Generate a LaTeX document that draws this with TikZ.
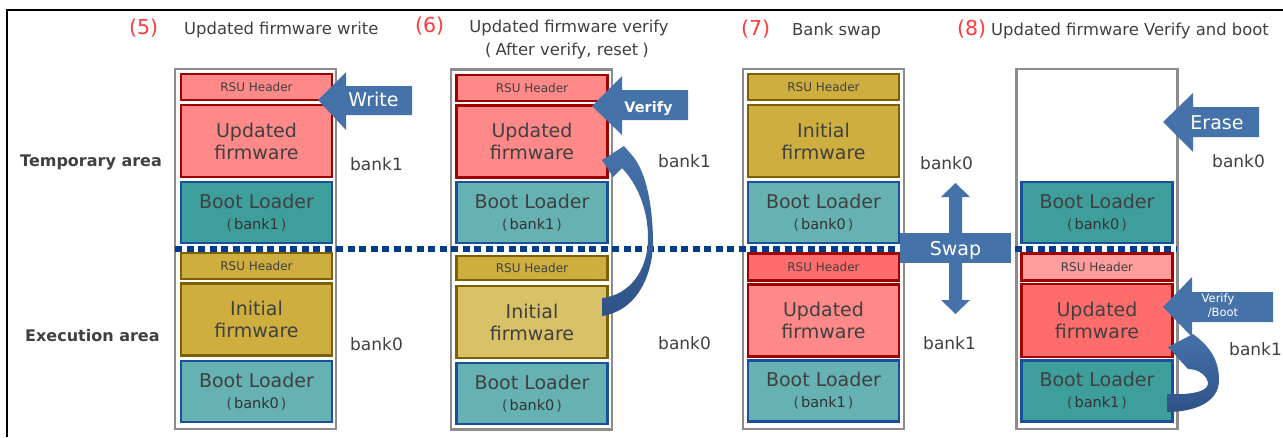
\documentclass[tikz,border=0pt]{standalone}
\usepackage{fontspec}
\setmainfont{DejaVu Sans}
\definecolor{txtgray}{HTML}{404040}
\definecolor{numred}{HTML}{FF3B3B}
\definecolor{framegray}{HTML}{8C8C8C}
\definecolor{pinkA}{HTML}{FF8888}
\definecolor{pinkB}{HTML}{FF6C6C}
\definecolor{pinkC}{HTML}{FF9C9C}
\definecolor{redline}{HTML}{A00000}
\definecolor{gold}{HTML}{CDAE3F}
\definecolor{goldlight}{HTML}{D9C168}
\definecolor{goldline}{HTML}{7F6000}
\definecolor{tealdark}{HTML}{3E9E9C}
\definecolor{teallight}{HTML}{66B2B2}
\definecolor{tealline}{HTML}{1A4F9C}
\definecolor{arrowblue}{HTML}{4672AA}
\definecolor{arrowdark}{HTML}{2E5288}
\definecolor{dotblue}{HTML}{003C8C}
\newcommand{\bl}[1]{Boot Loader\\[-1pt]{\fontsize{14}{16}\selectfont (\hspace{2pt}{\fontsize{14.5}{16}\selectfont\color{black!80}#1}\hspace{2pt})}}
\begin{document}
\begin{tikzpicture}[x=1pt,y=-1pt,
  memframe/.style={draw=framegray, line width=2.5pt, fill=white, minimum width=161, minimum height=360, inner sep=0pt},
  blk/.style={rectangle, line width=2.2pt, inner sep=0pt, minimum width=151, align=center, text=txtgray,
    font=\fontsize{19}{22}\selectfont},
  hdr/.style={blk, minimum height=26, font=\fontsize{12}{14}\selectfont},
  fw/.style={blk, minimum height=72},
  boot/.style={blk, minimum height=61, fill=teallight, draw=tealline},
  goldblk/.style={draw=goldline, fill=gold},
  title/.style={anchor=base west, inner sep=0pt, text=txtgray, font=\fontsize{16.4}{19}\selectfont},
  num/.style={anchor=base west, inner sep=0pt, text=numred, font=\fontsize{20.5}{22}\selectfont},
  area/.style={anchor=base west, inner sep=0pt, text=txtgray, font=\bfseries\fontsize{16}{19}\selectfont},
  bank/.style={anchor=base west, inner sep=0pt, text=txtgray, font=\fontsize{17}{20}\selectfont},
  arrowtext/.style={anchor=base, inner sep=0pt, text=white, font=\fontsize{19}{22}\selectfont},
  blockarrow/.style={fill=arrowblue},
  bentarrow/.style={top color=arrowblue, bottom color=arrowdark},
  divider/.style={draw=dotblue, line width=6pt, dash pattern=on 7pt off 4.5pt}
]
\useasboundingbox (0,0) rectangle (1283,437);

% partial outer frame
\draw[line width=2pt, black] (7,437) -- (7,10) -- (1283,10);

% ---------- (5) Updated firmware write ----------
\node[memframe] (f5) at (255.5,249) {};
\node[hdr, fill=pinkA, draw=redline] (h5a) at (256.5,87) {RSU Header};
\node[fw, fill=pinkA, draw=redline] (u5) at (256.5,141) {Updated\\firmware};
\node[boot, fill=tealdark] (b5a) at (256.5,212.5) {\bl{bank1}};
\node[hdr, goldblk] (h5b) at (256.5,266) {RSU Header};
\node[fw, goldblk] (i5) at (256.5,319.5) {Initial\\firmware};
\node[boot] (b5b) at (256.5,391.5) {\bl{bank0}};

% ---------- (6) Updated firmware verify ----------
\node[memframe] (f6) at (531.5,249.5) {};
\node[hdr, fill=pinkA, draw=redline] (h6a) at (532,88) {RSU Header};
\node[fw, fill=pinkA, draw=redline] (u6) at (532,141.5) {Updated\\firmware};
\node[boot] (b6a) at (532,212.5) {\bl{bank1}};
\node[hdr, minimum height=24, goldblk] (h6b) at (532,268) {RSU Header};
\node[fw, draw=goldline, fill=goldlight] (i6) at (532,322) {Initial\\firmware};
\node[boot] (b6b) at (532,393.5) {\bl{bank0}};

% ---------- (7) Bank swap ----------
\node[memframe] (f7) at (823.5,249) {};
\node[hdr, goldblk] (h7a) at (823.5,87) {RSU Header};
\node[fw, goldblk] (i7) at (823.5,141) {Initial\\firmware};
\node[boot] (b7a) at (823.5,212.5) {\bl{bank0}};
\node[hdr, minimum height=27, fill=pinkB, draw=redline] (h7b) at (823.5,267) {RSU Header};
\node[fw, fill=pinkA, draw=redline] (u7) at (823.5,320.5) {Updated\\firmware};
\node[boot] (b7b) at (823.5,391) {\bl{bank1}};

% ---------- (8) Updated firmware verify and boot ----------
\node[memframe] (f8) at (1097,249) {};
\node[boot, fill=tealdark] (b8a) at (1097,212.5) {\bl{bank0}};
\node[hdr, minimum height=27, fill=pinkC, draw=redline] (h8b) at (1097,267) {RSU Header};
\node[fw, minimum height=73, fill=pinkB, draw=redline] (u8) at (1097,320.5) {Updated\\firmware};
\node[boot, fill=tealdark] (b8b) at (1097,391) {\bl{bank1}};

% bank boundary
\coordinate (dl) at (175,249);
\coordinate (dr) at (1177,249);
\draw[divider] (dl) -- (dr);

% ---------- titles ----------
\node[num] (n5) at (129,34) {(5)};
\node[title] (t5) at (184,34) {Updated firmware write};
\node[num] (n6) at (415,32) {(6)};
\node[title, anchor=base] (t6) at (569,32) {Updated firmware verify};
\node[title, anchor=base] (t6b) at (567,55) {(\hspace{4pt}After verify, reset\hspace{4pt})};
\node[num] (n7) at (741,35) {(7)};
\node[title] (t7) at (792,35) {Bank swap};
\node[num] (n8) at (957,35) {(8)};
\node[title] (t8) at (991,35) {Updated firmware Verify and boot};

% area names
\node[area] (tmp) at (20,166) {Temporary area};
\node[area] (exe) at (25,341) {Execution area};

% bank labels
\node[bank] (k5a) at (350,170) {bank1};
\node[bank] (k5b) at (350,350) {bank0};
\node[bank] (k6a) at (658,167) {bank1};
\node[bank] (k6b) at (658,349) {bank0};
\node[bank] (k7a) at (920,169) {bank0};
\node[bank] (k7b) at (923,349) {bank1};
\node[bank] (k8a) at (1212,167) {bank0};
\node[bank] (k8b) at (1229,355) {bank1};

% ---------- block arrows ----------
\fill[blockarrow] (318,100) -- (346,72) -- (346,86) -- (412,86) -- (412,115) -- (346,115) -- (346,130) -- cycle;
\node[arrowtext] (aw) at (373.5,106) {Write};

\fill[blockarrow] (592,106) -- (622,76) -- (622,90) -- (688,90) -- (688,120) -- (622,120) -- (622,135) -- cycle;
\node[arrowtext, font=\bfseries\fontsize{14.5}{16}\selectfont] (av) at (648.5,112) {Verify};

\fill[blockarrow] (1163,122) -- (1193,93) -- (1193,107) -- (1259,107) -- (1259,137) -- (1193,137) -- (1193,152) -- cycle;
\node[arrowtext] (ae) at (1217,129) {Erase};

\fill[blockarrow] (1163,307) -- (1192,277) -- (1192,292) -- (1273,292) -- (1273,322) -- (1192,322) -- (1192,337) -- cycle;
\node[arrowtext, font=\fontsize{11.5}{13}\selectfont] (avb) at (1218,302) {Verify};
\node[arrowtext, font=\fontsize{11.5}{13}\selectfont] (avb2) at (1223,316) {/Boot};

% swap: double arrow with label box
\fill[blockarrow] (955.5,183) -- (970,197) -- (962,197) -- (962,300) -- (970,300) -- (955.5,314)
  -- (941,300) -- (949,300) -- (949,197) -- (941,197) -- cycle;
\node[fill=arrowblue, minimum width=111, minimum height=30, inner sep=0pt] (sw) at (955.5,248) {};
\node[arrowtext] (swt) at (955.5,255) {Swap};

% ---------- curved arrows ----------
% initial firmware -> updated firmware (verify and reset)
\shade[bentarrow]
  (602,316) .. controls (640,310) and (654,270) .. (653,238)
  .. controls (652,200) and (645,168) .. (630,153)
  -- (624,146) -- (602,160) -- (613,177) -- (622,168)
  .. controls (638,185) and (648,210) .. (648,238)
  .. controls (648,270) and (630,295) .. (602,298) -- cycle;

% boot loader -> updated firmware (boot)
\shade[bentarrow]
  (1167,412) .. controls (1195,412) and (1219,402) .. (1219,380)
  .. controls (1219,362) and (1212,348) .. (1193,334)
  -- (1168,347) -- (1188,369)
  .. controls (1200,369) and (1208,377) .. (1208,384)
  .. controls (1207,392) and (1190,395) .. (1167,394) -- cycle;
\end{tikzpicture}
\end{document}
